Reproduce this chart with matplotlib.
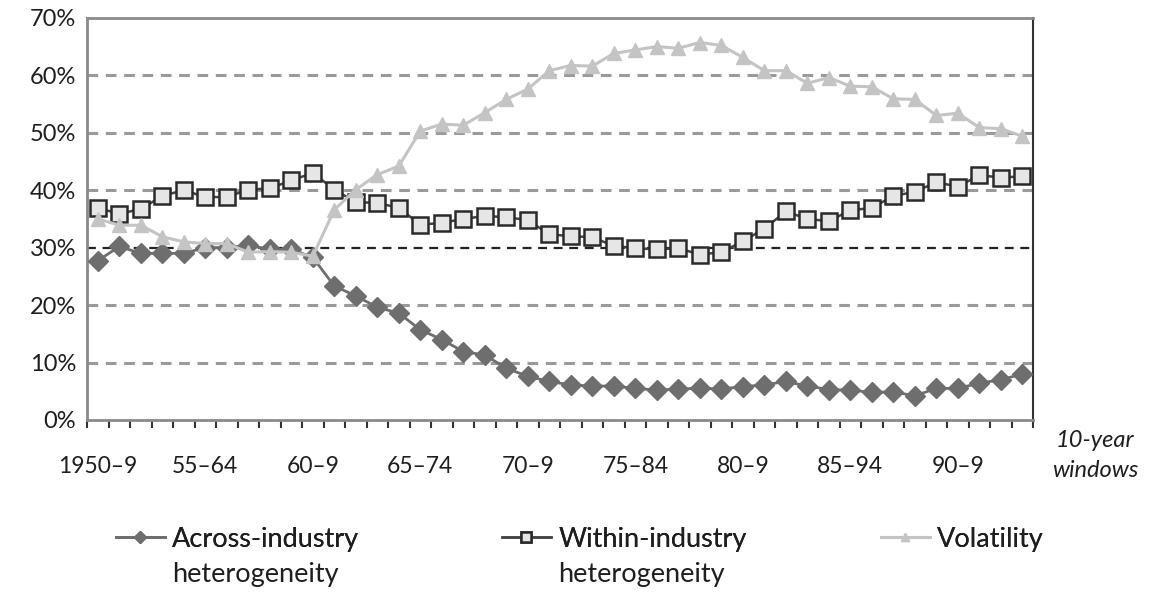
import matplotlib.pyplot as plt
import numpy as np

plt.rcParams['font.family'] = ['Lato', 'DejaVu Sans']

# Data: shares (%) for 44 rolling 10-year windows, 1950-9 .. 1993-2002
across = [27.7, 30.2, 29.0, 29.0, 29.0, 30.0, 30.0, 30.4, 29.7, 29.7,
          28.3, 23.3, 21.6, 19.6, 18.6, 15.7, 14.0, 11.9, 11.3, 9.0,
          7.6, 6.7, 6.1, 5.9, 5.9, 5.5, 5.2, 5.4, 5.5, 5.4,
          5.8, 6.1, 6.7, 5.9, 5.3, 5.2, 4.8, 4.9, 4.2, 5.5,
          5.5, 6.4, 7.0, 8.0]
within = [36.9, 35.9, 36.7, 39.0, 40.0, 38.8, 38.8, 40.1, 40.3, 41.7,
          43.0, 40.1, 37.9, 37.8, 36.9, 34.0, 34.3, 35.0, 35.5, 35.3,
          34.8, 32.3, 32.0, 31.8, 30.3, 29.9, 29.7, 29.9, 28.8, 29.2,
          31.1, 33.3, 36.3, 35.0, 34.6, 36.5, 36.9, 39.0, 39.7, 41.4,
          40.6, 42.6, 42.2, 42.4]
volatility = [35.0, 33.9, 33.9, 31.9, 31.0, 30.7, 30.7, 29.2, 29.3, 29.2,
              28.5, 36.6, 40.1, 42.7, 44.2, 50.3, 51.5, 51.3, 53.5, 55.8,
              57.6, 60.8, 61.7, 61.6, 63.8, 64.4, 65.0, 64.7, 65.7, 65.2,
              63.1, 60.8, 60.8, 58.6, 59.6, 58.1, 58.0, 55.9, 55.8, 53.0,
              53.4, 50.9, 50.7, 49.4]
tick_labels = ['1950–9', '55–64', '60–9', '65–74', '70–9', '75–84', '80–9', '85–94', '90–9']
yticks = [0, 10, 20, 30, 40, 50, 60, 70]

x = np.arange(len(across))
txt = '#1e1e1e'

fig = plt.figure(figsize=(11.53, 5.94), dpi=100)
ax = fig.add_axes([0.0755, 0.293, 0.8205, 0.677])

# grid lines
for v in yticks[1:-1]:
    if v == 30:
        ax.axhline(v, color='#222222', lw=1.6, ls=(0, (4, 3)), zorder=1)
    else:
        ax.axhline(v, color='#9a9a9a', lw=2.2, ls=(0, (3.5, 2.5)), zorder=1)

l1, = ax.plot(x, across, color='#6e6e6e', lw=2, marker='D', ms=10,
              mfc='#6e6e6e', mec='#6e6e6e', zorder=3)
l2, = ax.plot(x, within, color='#444444', lw=1.8, marker='s', ms=11,
              mfc='#e6e6e6', mec='#2a2a2a', mew=1.8, zorder=3)
l3, = ax.plot(x, volatility, color='#c4c4c4', lw=2.2, marker='^', ms=10.5,
              mfc='#c4c4c4', mec='#c4c4c4', zorder=4)

ax.set_xlim(-0.5, len(x) - 0.5)
ax.set_ylim(0, 70)
ax.set_yticks(yticks)
ax.set_yticklabels([f'{v}%' for v in yticks], fontsize=17, color=txt)
ax.tick_params(axis='y', length=0, pad=8)

# boundary tick marks, labels at window centres
ax.set_xticks(np.arange(len(x) + 1) - 0.5)
ax.set_xticklabels([])
ax.tick_params(axis='x', which='major', direction='out', length=6, width=1.5, color='#333333')
ax.set_xticks(x[::5][:len(tick_labels)], minor=True)
ax.set_xticklabels(tick_labels, minor=True, fontsize=16.5, color=txt)
ax.tick_params(axis='x', which='minor', length=0, pad=26)

for s in ['left', 'bottom', 'top']:
    ax.spines[s].set_color('#8a8a8a')
    ax.spines[s].set_linewidth(2)
ax.spines['right'].set_color('#333333')
ax.spines['right'].set_linewidth(1.5)

fig.text(0.95, 0.233, '10-year\nwindows', ha='center', va='center',
         fontsize=17, style='italic', color=txt, linespacing=1.5)

# legend: one entry per column, second line of label placed underneath
entries = [(l1, 'Across-industry', 'heterogeneity', 0.1006),
           (l2, 'Within-industry', 'heterogeneity', 0.4354),
           (l3, 'Volatility', None, 0.7640)]
for line, first, second, xpos in entries:
    leg = fig.legend([line], [first], loc='center left', bbox_to_anchor=(xpos, 0.092),
                     frameon=False, fontsize=19.5, handlelength=1.8, handletextpad=0.28,
                     markerscale=0.6, borderpad=0, borderaxespad=0, labelcolor=txt)
    fig.add_artist(leg)
    if second:
        fig.text(xpos + 0.0485, 0.032, second, ha='left', va='center',
                 fontsize=19.5, color=txt)

plt.savefig('out.png', dpi=100)
